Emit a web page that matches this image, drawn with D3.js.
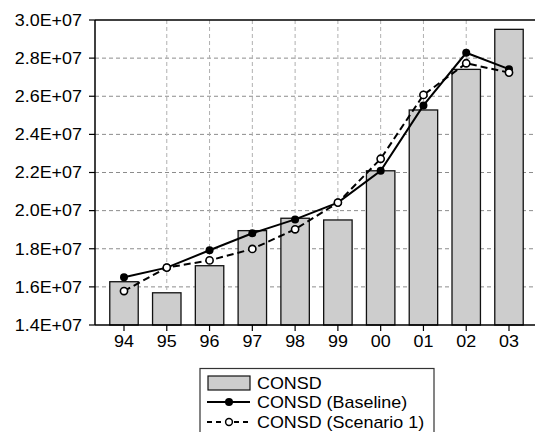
<!DOCTYPE html>
<html lang="en">
<head>
  <meta charset="utf-8">
  <title>CONSD</title>
  <script src="https://d3js.org/d3.v7.min.js"></script>
  <style>
    body { margin: 0; background: #fff; }
    text { font-family: "Liberation Sans", Arial, sans-serif; font-size: 16px; fill: #000; }
  </style>
</head>
<body>
  <script type="text/javascript">
  var years = ["94","95","96","97","98","99","00","01","02","03"];
  var consd = [16270000,15690000,17110000,18950000,19600000,19510000,22090000,25280000,27410000,29510000];
  var baseline = [16500000,17010000,17920000,18810000,19540000,20420000,22090000,25520000,28280000,27420000];
  var scenario = [15780000,17010000,17390000,17990000,19020000,20420000,22720000,26070000,27730000,27240000];
  var yTicks = [14000000,16000000,18000000,20000000,22000000,24000000,26000000,28000000,30000000];
  var gridYears = ["95","96","97","98","99","00","01","02"];
  var legendNames = ["CONSD","CONSD (Baseline)","CONSD (Scenario 1)"];

  var w = 536, h = 432;
  var plotL = 95, plotR = 535, plotT = 20, plotB = 325;
  var sx = 1.12; // text in the reference is stretched sideways

  var svg = d3.select("body").append("svg")
    .attr("width", w).attr("height", h);

  var x = d3.scalePoint().domain(years).range([124, 509]);
  var y = d3.scaleLinear().domain([14000000, 30000000]).range([plotB, plotT]);
  var barW = x.step() * 0.665;

  function fmt(v) {
    var e = Math.floor(Math.log10(v));
    var m = v / Math.pow(10, e);
    return m.toFixed(1) + "E+" + (e < 10 ? "0" + e : e);
  }

  // grid
  svg.append("g").selectAll("line")
    .data(yTicks.slice(1, -1))
    .enter().append("line")
    .attr("x1", plotL).attr("x2", plotR)
    .attr("y1", function(d){ return y(d); })
    .attr("y2", function(d){ return y(d); })
    .attr("stroke", "#8c8c8c").attr("stroke-width", 1)
    .attr("stroke-dasharray", "4,3");
  svg.append("g").selectAll("line")
    .data(gridYears)
    .enter().append("line")
    .attr("x1", function(d){ return x(d); })
    .attr("x2", function(d){ return x(d); })
    .attr("y1", plotT).attr("y2", plotB)
    .attr("stroke", "#b0b0b0").attr("stroke-width", 1)
    .attr("stroke-dasharray", "4,3");

  // bars
  svg.append("g").selectAll("rect")
    .data(consd)
    .enter().append("rect")
    .attr("x", function(d, i){ return x(years[i]) - barW / 2; })
    .attr("y", function(d){ return y(d); })
    .attr("width", barW)
    .attr("height", function(d){ return plotB - y(d); })
    .attr("fill", "#cdcdcd")
    .attr("stroke", "#111").attr("stroke-width", 1.3);

  // axes frame
  svg.append("line").attr("x1", plotL).attr("x2", plotR).attr("y1", plotT).attr("y2", plotT)
    .attr("stroke", "#000").attr("stroke-width", 1.5);
  svg.append("line").attr("x1", plotL).attr("x2", plotR).attr("y1", plotB).attr("y2", plotB)
    .attr("stroke", "#000").attr("stroke-width", 1.5);
  svg.append("line").attr("x1", plotL).attr("x2", plotL).attr("y1", plotT).attr("y2", plotB)
    .attr("stroke", "#000").attr("stroke-width", 1.5);

  // y ticks and labels
  var yt = svg.append("g").selectAll("g")
    .data(yTicks).enter().append("g");
  yt.append("line")
    .attr("x1", plotL - 6).attr("x2", plotL)
    .attr("y1", function(d){ return y(d); })
    .attr("y2", function(d){ return y(d); })
    .attr("stroke", "#000").attr("stroke-width", 1.2);
  yt.append("text")
    .attr("transform", function(d){ return "translate(82," + (y(d) + 5.8) + ") scale(" + sx + ",1)"; })
    .attr("text-anchor", "end")
    .text(function(d){ return fmt(d); });

  // x ticks and labels
  var xt = svg.append("g").selectAll("g")
    .data(years).enter().append("g");
  xt.append("line")
    .attr("x1", function(d){ return x(d); })
    .attr("x2", function(d){ return x(d); })
    .attr("y1", plotB).attr("y2", plotB + 6)
    .attr("stroke", "#000").attr("stroke-width", 1.2);
  xt.append("text")
    .attr("transform", function(d){ return "translate(" + x(d) + ",347) scale(" + sx + ",1)"; })
    .attr("text-anchor", "middle")
    .text(function(d){ return d; });

  // lines
  var line = d3.line()
    .x(function(d, i){ return x(years[i]); })
    .y(function(d){ return y(d); });

  svg.append("path").datum(baseline)
    .attr("d", line).attr("fill", "none")
    .attr("stroke", "#000").attr("stroke-width", 2);
  svg.append("g").selectAll("circle")
    .data(baseline).enter().append("circle")
    .attr("cx", function(d, i){ return x(years[i]); })
    .attr("cy", function(d){ return y(d); })
    .attr("r", 4).attr("fill", "#000");

  svg.append("path").datum(scenario)
    .attr("d", line).attr("fill", "none")
    .attr("stroke", "#000").attr("stroke-width", 2)
    .attr("stroke-dasharray", "7,4");
  svg.append("g").selectAll("circle")
    .data(scenario).enter().append("circle")
    .attr("cx", function(d, i){ return x(years[i]); })
    .attr("cy", function(d){ return y(d); })
    .attr("r", 3.6).attr("fill", "#fff")
    .attr("stroke", "#000").attr("stroke-width", 1.6);

  // legend
  var lg = svg.append("g");
  lg.append("rect")
    .attr("x", 200).attr("y", 368.5).attr("width", 234).attr("height", 80)
    .attr("fill", "#fff").attr("stroke", "#333").attr("stroke-width", 1.2);
  var rowY = [383, 402, 422];
  lg.append("rect")
    .attr("x", 208).attr("y", 376).attr("width", 42).attr("height", 14)
    .attr("fill", "#cdcdcd").attr("stroke", "#111").attr("stroke-width", 1.2);
  lg.append("line")
    .attr("x1", 207).attr("x2", 250).attr("y1", rowY[1]).attr("y2", rowY[1])
    .attr("stroke", "#000").attr("stroke-width", 2);
  lg.append("circle").attr("cx", 229).attr("cy", rowY[1]).attr("r", 4).attr("fill", "#000");
  lg.append("line")
    .attr("x1", 207).attr("x2", 250).attr("y1", rowY[2]).attr("y2", rowY[2])
    .attr("stroke", "#000").attr("stroke-width", 2)
    .attr("stroke-dasharray", "5,4");
  lg.append("circle").attr("cx", 229).attr("cy", rowY[2]).attr("r", 3.4)
    .attr("fill", "#fff").attr("stroke", "#000").attr("stroke-width", 1.5);
  lg.selectAll("text")
    .data(legendNames).enter().append("text")
    .attr("transform", function(d, i){ return "translate(257," + (rowY[i] + 5.8) + ") scale(" + sx + ",1)"; })
    .text(function(d){ return d; });
  </script>
</body>
</html>
